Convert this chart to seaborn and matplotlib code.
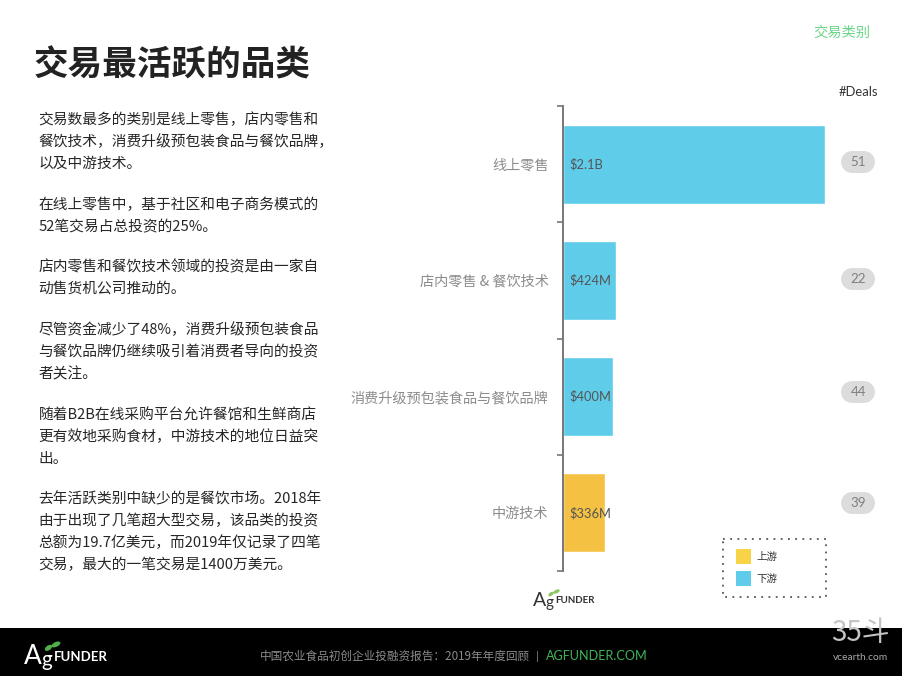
import matplotlib
matplotlib.use("Agg")
import matplotlib.pyplot as plt
from matplotlib.patches import Rectangle, Ellipse, Patch
import pandas as pd
import seaborn as sns

# ---- data ----
categories = ["线上零售", "店内零售 & 餐饮技术", "消费升级预包装食品与餐饮品牌", "中游技术"]
funding_busd = [2.1, 0.424, 0.400, 0.336]
funding_labels = ["$2.1B", "$424M", "$400M", "$336M"]
deal_counts = [51, 22, 44, 39]
streams = ["下游", "下游", "下游", "上游"]
legend_labels = ["上游", "下游"]

title = "交易最活跃的品类"
section = "交易类别"
deals_header = "#Deals"
body_lines = [
    ("交易数最多的类别是线上零售，店内零售和", 120),
    ("餐饮技术，消费升级预包装食品与餐饮品牌，", 142),
    ("以及中游技术。", 164),
    ("在线上零售中，基于社区和电子商务模式的", 205),
    ("52笔交易占总投资的25%。", 227),
    ("店内零售和餐饮技术领域的投资是由一家自", 267),
    ("动售货机公司推动的。", 289),
    ("尽管资金减少了48%，消费升级预包装食品", 330),
    ("与餐饮品牌仍继续吸引着消费者导向的投资", 352),
    ("者关注。", 374),
    ("随着B2B在线采购平台允许餐馆和生鲜商店", 415),
    ("更有效地采购食材，中游技术的地位日益突", 437),
    ("出。", 459),
    ("去年活跃类别中缺少的是餐饮市场。2018年", 499),
    ("由于出现了几笔超大型交易，该品类的投资", 521),
    ("总额为19.7亿美元，而2019年仅记录了四笔", 543),
    ("交易，最大的一笔交易是1400万美元。", 565),
]
footer_text = "中国农业食品初创企业投融资报告：2019年年度回顾"
footer_link = "AGFUNDER.COM"

# ---- style ----
sns.set_theme(style="white")
plt.rcParams["font.family"] = ["Noto Sans CJK SC", "DejaVu Sans"]
LATIN = ["Lato", "Noto Sans CJK SC"]
W, H = 903, 676
BLUE, YELLOW, LEG_YELLOW = "#5FCCEA", "#F5C142", "#F8D347"
GREEN = "#6BD68A"
pill_shift_px = [-2, -1, -5, -10]

fig = plt.figure(figsize=(W / 100, H / 100), dpi=100, facecolor="white")

# ---- chart ----
left, right, top, bottom = 562.6, W, 106, 571
ax = fig.add_axes([left / W, 1 - bottom / H, (right - left) / W, (bottom - top) / H], facecolor="none")
df = pd.DataFrame({"category": categories, "funding": funding_busd, "stream": streams})
sns.barplot(data=df, y="category", x="funding", hue="stream",
            palette={"下游": BLUE, "上游": YELLOW}, dodge=False, width=0.68,
            legend=False, saturation=1, ax=ax)
px_per_unit = 125.0
ax.set_xlim(0, (right - left) / px_per_unit)
ax.set_ylim(3.5, -0.5)
ax.set_xlabel("")
ax.set_ylabel("")
sns.despine(ax=ax, top=True, right=True, bottom=True)
ax.spines["left"].set_color("#777777")
ax.spines["left"].set_linewidth(1.4)
ax.set_xticks([])
ax.set_yticks(range(len(categories)))
ax.set_yticklabels(categories, color="#8C8C8C", fontsize=10.2)
ax.tick_params(axis="y", which="major", length=0, pad=10.2)
ax.set_yticks([i - 0.5 for i in range(len(categories) + 1)], minor=True)
ax.tick_params(axis="y", which="minor", left=True, length=4, width=1.2, color="#777777")

for i, lab in enumerate(funding_labels):
    ax.annotate(lab, (0, i), xytext=(7 * 0.72, 0), textcoords="offset points",
                va="center", ha="left", fontsize=9.3, color="#555555", family=LATIN)

band_px = (bottom - top) / len(categories)
x0, x1 = (852.5 - left) / px_per_unit, (864.5 - left) / px_per_unit
for i, (n, dy) in enumerate(zip(deal_counts, pill_shift_px)):
    yy = i + dy / band_px
    ax.plot([x0, x1], [yy, yy], color="#DCDCDC", lw=22 * 0.72, solid_capstyle="round", zorder=2)
    ax.text((x0 + x1) / 2, yy, str(n), ha="center", va="center", fontsize=9.6,
            color="#7F7F7F", family=LATIN, zorder=3)

# ---- page overlay in pixel coordinates ----
pg = fig.add_axes([0, 0, 1, 1], facecolor="none")
pg.set_xlim(0, W)
pg.set_ylim(H, 0)
pg.axis("off")

pg.add_patch(Rectangle((0, 628), W, 48, color="black", lw=0))
pg.text(34, 65.5, title, fontsize=24.9, fontweight="bold", color="#222222", va="center", ha="left")
pg.text(842, 33, section, fontsize=10.3, color=GREEN, va="center", ha="center")
pg.text(858, 92, deals_header, fontsize=9.4, color="#333333", va="center", ha="center", family=LATIN)
for line, y in body_lines:
    pg.text(38.5, y, line, fontsize=10.6, color="#262626", va="center", ha="left")

# legend
pg.add_patch(Rectangle((723.5, 538.5), 102.5, 58, fill=False, ec="#555555", lw=1.3, ls=(0, (1, 3))))
handles = [Patch(facecolor=LEG_YELLOW, edgecolor="none"), Patch(facecolor=BLUE, edgecolor="none")]
pg.legend(handles, legend_labels, loc="upper left",
          bbox_to_anchor=(729 / W, 1 - 542 / H), frameon=False, fontsize=7.6,
          handlelength=1.42, handleheight=1.81, handletextpad=0.5, labelspacing=0.66,
          borderpad=0.2, labelcolor="#333333")

# logos
def logo(x, y, s, col, leaf_col):
    pg.text(x, y, "A", fontsize=14 * s, color=col, family="Lato", va="center", ha="left")
    pg.text(x + 13 * s, y + 3 * s, "g", fontsize=11 * s, color=col, family="Lato", va="center", ha="left")
    pg.text(x + 22 * s, y + 0.5 * s, "FUNDER", fontsize=7 * s, color=col, family="Lato",
            fontweight="bold", va="center", ha="left")
    pg.add_patch(Ellipse((x + 18 * s, y - 6 * s), 6 * s, 3.5 * s, angle=-35, color=leaf_col, lw=0))
    pg.add_patch(Ellipse((x + 23.5 * s, y - 8.5 * s), 7 * s, 3.5 * s, angle=-25, color=leaf_col, lw=0))

logo(533, 600, 1.0, "#333333", "#8CC763")
logo(24, 656, 1.36, "white", "#4FB04A")

# footer
pg.text(530, 656, footer_text, fontsize=8.4, color="#8A8A8A", va="center", ha="right")
pg.text(537, 656, "|", fontsize=8.4, color="#8A8A8A", va="center", ha="center", family=LATIN)
pg.text(546, 656, footer_link, fontsize=9.05, color="#3FB55A", va="center", ha="left", family=LATIN)

# watermark
pg.text(860, 633, "35斗", fontsize=20, color="#C4C4C4", va="center", ha="center")
pg.text(861, 658, "vcearth.com", fontsize=7.4, color="#A8A8A8", va="center", ha="center", family=LATIN)

fig.savefig("out.png", dpi=100, facecolor="white")
